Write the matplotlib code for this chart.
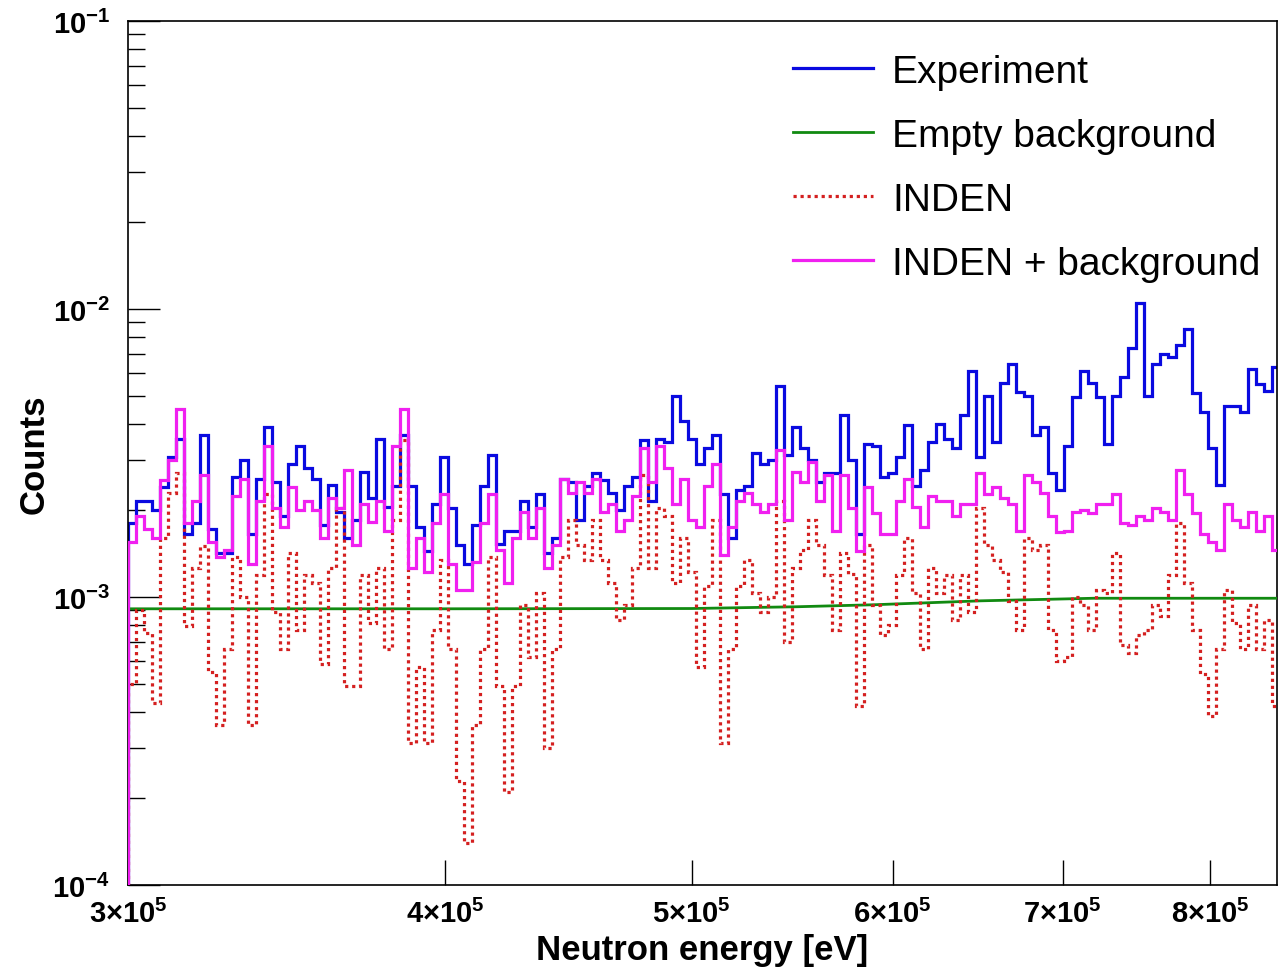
import numpy as np
import matplotlib
matplotlib.use("Agg")
import matplotlib.pyplot as plt
from matplotlib.lines import Line2D
from matplotlib.ticker import FixedLocator, NullFormatter

plt.rcParams['font.family'] = ['Liberation Sans', 'DejaVu Sans']
plt.rcParams['mathtext.fontset'] = 'custom'
plt.rcParams['mathtext.rm'] = 'Liberation Sans'
plt.rcParams['mathtext.bf'] = 'Liberation Sans:bold'

# energy range of the histograms (eV), log-spaced bins
E_MIN, E_MAX = 3.0e5, 8.525e5

experiment = [
    1.8e-3, 2.15e-3, 2.15e-3, 2.0e-3, 2.4e-3, 3.06e-3, 3.55e-3, 1.65e-3, 1.8e-3, 3.66e-3, 1.72e-3, 1.42e-3,
    1.42e-3, 2.6e-3, 3.0e-3, 1.65e-3, 2.57e-3, 3.9e-3, 2.5e-3, 1.91e-3, 2.9e-3, 3.35e-3, 2.8e-3, 2.57e-3,
    1.78e-3, 2.45e-3, 1.97e-3, 1.6e-3, 1.85e-3, 2.72e-3, 2.2e-3, 3.55e-3, 2.05e-3, 2.42e-3, 3.66e-3, 2.42e-3,
    1.75e-3, 1.45e-3, 2.1e-3, 3.06e-3, 2.03e-3, 1.51e-3, 1.3e-3, 1.78e-3, 2.42e-3, 3.1e-3, 1.53e-3, 1.7e-3,
    1.7e-3, 2.15e-3, 1.75e-3, 2.28e-3, 1.42e-3, 1.6e-3, 2.57e-3, 2.5e-3, 1.85e-3, 2.42e-3, 2.7e-3, 2.55e-3,
    2.3e-3, 2.0e-3, 2.42e-3, 2.6e-3, 3.5e-3, 2.15e-3, 3.55e-3, 3.45e-3, 5.0e-3, 4.1e-3, 3.55e-3, 2.9e-3,
    3.3e-3, 3.66e-3, 2.28e-3, 1.6e-3, 2.35e-3, 2.42e-3, 3.15e-3, 2.9e-3, 3.0e-3, 5.4e-3, 3.1e-3, 3.9e-3,
    3.3e-3, 3.0e-3, 2.5e-3, 2.7e-3, 2.7e-3, 4.3e-3, 3.0e-3, 1.65e-3, 3.4e-3, 3.35e-3, 2.6e-3, 2.7e-3,
    3.06e-3, 3.95e-3, 2.42e-3, 2.75e-3, 3.45e-3, 4.0e-3, 3.55e-3, 3.3e-3, 4.3e-3, 6.1e-3, 3.06e-3, 5.0e-3,
    3.45e-3, 5.55e-3, 6.45e-3, 5.15e-3, 5.0e-3, 3.66e-3, 3.9e-3, 2.7e-3, 2.35e-3, 3.35e-3, 4.95e-3, 6.1e-3,
    5.55e-3, 4.95e-3, 3.4e-3, 5.0e-3, 5.8e-3, 7.3e-3, 1.05e-2, 5.0e-3, 6.45e-3, 7.0e-3, 6.8e-3, 7.5e-3,
    8.5e-3, 5.1e-3, 4.4e-3, 3.3e-3, 2.45e-3, 4.6e-3, 4.6e-3, 4.4e-3, 6.2e-3, 5.5e-3, 5.2e-3, 6.3e-3,
]

inden = [
    5.0e-4, 9.0e-4, 7.5e-4, 4.3e-4, 1.6e-3, 2.3e-3, 2.7e-3, 7.9e-4, 1.26e-3, 1.5e-3, 5.5e-4, 3.6e-4,
    6.6e-4, 1.38e-3, 1.0e-3, 3.6e-4, 1.19e-3, 2.28e-3, 8.9e-4, 6.6e-4, 1.42e-3, 7.7e-4, 1.19e-3, 1.12e-3,
    5.85e-4, 1.26e-3, 2.03e-3, 4.9e-4, 4.9e-4, 1.19e-3, 8.1e-4, 1.26e-3, 6.6e-4, 1.85e-3, 3.5e-3, 3.1e-4,
    5.7e-4, 3.1e-4, 7.7e-4, 1.34e-3, 6.6e-4, 2.3e-4, 1.4e-4, 3.6e-4, 6.6e-4, 1.38e-3, 4.9e-4, 2.1e-4,
    4.9e-4, 9.4e-4, 6.2e-4, 1.03e-3, 3.0e-4, 6.6e-4, 1.38e-3, 1.85e-3, 1.51e-3, 1.34e-3, 1.85e-3, 1.34e-3,
    1.12e-3, 8.3e-4, 9.4e-4, 1.26e-3, 2.65e-3, 1.26e-3, 2.03e-3, 1.91e-3, 1.12e-3, 1.6e-3, 1.22e-3, 5.7e-4,
    1.09e-3, 1.85e-3, 3.1e-4, 6.6e-4, 1.09e-3, 1.34e-3, 1.03e-3, 8.9e-4, 1.0e-3, 2.15e-3, 7.0e-4, 1.26e-3,
    1.46e-3, 1.85e-3, 1.51e-3, 1.19e-3, 7.7e-4, 1.42e-3, 1.2e-3, 4.2e-4, 1.51e-3, 9.4e-4, 7.4e-4, 8.0e-4,
    1.19e-3, 1.6e-3, 1.03e-3, 6.6e-4, 1.26e-3, 1.03e-3, 1.19e-3, 8.3e-4, 1.19e-3, 8.9e-4, 2.03e-3, 1.51e-3,
    1.34e-3, 1.22e-3, 9.7e-4, 7.7e-4, 1.6e-3, 1.46e-3, 1.51e-3, 7.7e-4, 6.0e-4, 6.2e-4, 1.0e-3, 9.4e-4,
    7.7e-4, 1.06e-3, 1.03e-3, 1.42e-3, 6.8e-4, 6.4e-4, 7.4e-4, 7.7e-4, 9.4e-4, 8.6e-4, 1.19e-3, 1.8e-3,
    1.12e-3, 7.7e-4, 5.4e-4, 3.86e-4, 6.6e-4, 1.06e-3, 8.1e-4, 6.6e-4, 9.4e-4, 6.6e-4, 8.3e-4, 4.2e-4,
]

inden_bkg = [
    1.55e-3, 1.91e-3, 1.72e-3, 1.6e-3, 2.55e-3, 2.98e-3, 4.5e-3, 1.8e-3, 2.15e-3, 2.65e-3, 1.55e-3, 1.38e-3,
    1.46e-3, 2.25e-3, 2.57e-3, 1.3e-3, 2.15e-3, 3.35e-3, 2.03e-3, 1.75e-3, 2.4e-3, 2.0e-3, 2.15e-3, 2.0e-3,
    1.6e-3, 2.2e-3, 2.03e-3, 2.75e-3, 1.51e-3, 2.1e-3, 1.82e-3, 2.15e-3, 1.7e-3, 3.35e-3, 4.5e-3, 1.26e-3,
    1.6e-3, 1.22e-3, 1.8e-3, 2.28e-3, 1.3e-3, 1.06e-3, 1.06e-3, 1.32e-3, 1.8e-3, 2.28e-3, 1.46e-3, 1.12e-3,
    1.6e-3, 1.97e-3, 1.6e-3, 2.03e-3, 1.26e-3, 1.51e-3, 2.57e-3, 2.3e-3, 2.5e-3, 2.3e-3, 2.57e-3, 1.97e-3,
    2.1e-3, 1.7e-3, 1.85e-3, 2.25e-3, 3.3e-3, 2.5e-3, 3.35e-3, 2.8e-3, 2.1e-3, 2.57e-3, 1.85e-3, 1.75e-3,
    2.42e-3, 2.9e-3, 1.4e-3, 1.75e-3, 2.15e-3, 2.3e-3, 2.1e-3, 1.97e-3, 2.1e-3, 3.25e-3, 1.85e-3, 2.72e-3,
    2.5e-3, 2.95e-3, 2.15e-3, 2.65e-3, 1.7e-3, 2.65e-3, 2.03e-3, 1.45e-3, 2.4e-3, 1.95e-3, 1.65e-3, 1.65e-3,
    2.15e-3, 2.57e-3, 2.05e-3, 1.75e-3, 2.25e-3, 2.15e-3, 2.15e-3, 1.91e-3, 2.1e-3, 2.1e-3, 2.7e-3, 2.28e-3,
    2.4e-3, 2.2e-3, 2.1e-3, 1.7e-3, 2.65e-3, 2.5e-3, 2.3e-3, 1.91e-3, 1.68e-3, 1.7e-3, 1.97e-3, 2.0e-3,
    1.95e-3, 2.1e-3, 2.1e-3, 2.28e-3, 1.8e-3, 1.78e-3, 1.91e-3, 1.85e-3, 2.03e-3, 1.97e-3, 1.85e-3, 2.75e-3,
    2.28e-3, 1.95e-3, 1.65e-3, 1.55e-3, 1.46e-3, 2.1e-3, 1.85e-3, 1.75e-3, 1.97e-3, 1.7e-3, 1.91e-3, 1.46e-3,
]

# empty-target background, smooth
bkg_energy = [3.0e5, 4.0e5, 5.0e5, 5.5e5, 5.9e5, 6.5e5, 7.2e5, 8.0e5, 8.525e5]
bkg_counts = [9.1e-4, 9.1e-4, 9.12e-4, 9.25e-4, 9.4e-4, 9.7e-4, 9.9e-4, 9.9e-4, 9.9e-4]

x_ticks = [3e5, 4e5, 5e5, 6e5, 7e5, 8e5]
x_labels = [r'$\mathbf{%d{\times}10^{5}}$' % v for v in (3, 4, 5, 6, 7, 8)]
y_ticks = [1e-4, 1e-3, 1e-2, 1e-1]
y_labels = [r'$\mathbf{10^{-4}}$', r'$\mathbf{10^{-3}}$', r'$\mathbf{10^{-2}}$', r'$\mathbf{10^{-1}}$']

BLUE = '#0a0ae0'
GREEN = '#118a11'
RED = '#d42020'
MAGENTA = '#f020f0'

edges = np.geomspace(E_MIN, E_MAX, len(experiment) + 1)

fig = plt.figure(figsize=(12.84, 9.70), dpi=100)
ax = fig.add_axes([128 / 1284, 1 - 886 / 970, (1277 - 128) / 1284, (886 - 22) / 970])

ax.stairs(experiment, edges, baseline=1e-6, color=BLUE, lw=2.3, zorder=2)
ax.plot(bkg_energy, bkg_counts, color=GREEN, lw=2.0, zorder=3)
ax.stairs(inden, edges, baseline=1e-6, color=RED, lw=2.3,
          linestyle=(0, (1.0, 1.2)), zorder=4)
ax.stairs(inden_bkg, edges, baseline=1e-6, color=MAGENTA, lw=2.3, zorder=5)

ax.set_xscale('log')
ax.set_yscale('log')
ax.set_xlim(3e5, 8.5e5)
ax.set_ylim(1e-4, 1e-1)

ax.xaxis.set_major_locator(FixedLocator(x_ticks))
ax.xaxis.set_ticklabels(x_labels)
ax.xaxis.set_minor_locator(FixedLocator([]))
ax.xaxis.set_minor_formatter(NullFormatter())
ax.yaxis.set_major_locator(FixedLocator(y_ticks))
ax.yaxis.set_ticklabels(y_labels)
minor_y = [m * 10.0 ** e for e in (-4, -3, -2) for m in range(2, 10)]
ax.yaxis.set_minor_locator(FixedLocator(minor_y))
ax.yaxis.set_minor_formatter(NullFormatter())

ax.tick_params(axis='both', which='both', direction='in', top=False, right=False,
               width=1.0, color='black')
ax.tick_params(axis='y', which='major', length=23, pad=13, labelsize=21)
ax.tick_params(axis='y', which='minor', length=12)
ax.tick_params(axis='x', which='major', length=18, pad=10, labelsize=21)
for sp in ax.spines.values():
    sp.set_linewidth(1.2)

ax.set_xlabel('Neutron energy [eV]', fontsize=25, fontweight='bold', va='center')
ax.xaxis.set_label_coords(0.5, (886 - 951) / 864)
ax.set_ylabel('Counts', fontsize=25, fontweight='bold', va='center')
ax.yaxis.set_label_coords((34 - 128) / 1149, 0.5)

handles = [
    Line2D([], [], color=BLUE, lw=2.3),
    Line2D([], [], color=GREEN, lw=2.0),
    Line2D([], [], color=RED, lw=2.3, linestyle=(0, (1.0, 1.2))),
    Line2D([], [], color=MAGENTA, lw=2.3),
]
labels = ['Experiment', 'Empty background', 'INDEN', 'INDEN + background']
fig.legend(handles, labels, loc='upper left', bbox_to_anchor=(793 / 1284, 1 - 55 / 970),
           frameon=False, fontsize=28, handlelength=2.05, handletextpad=0.5,
           labelspacing=0.72, borderpad=0, borderaxespad=0)

fig.savefig('out.png', dpi=100)
